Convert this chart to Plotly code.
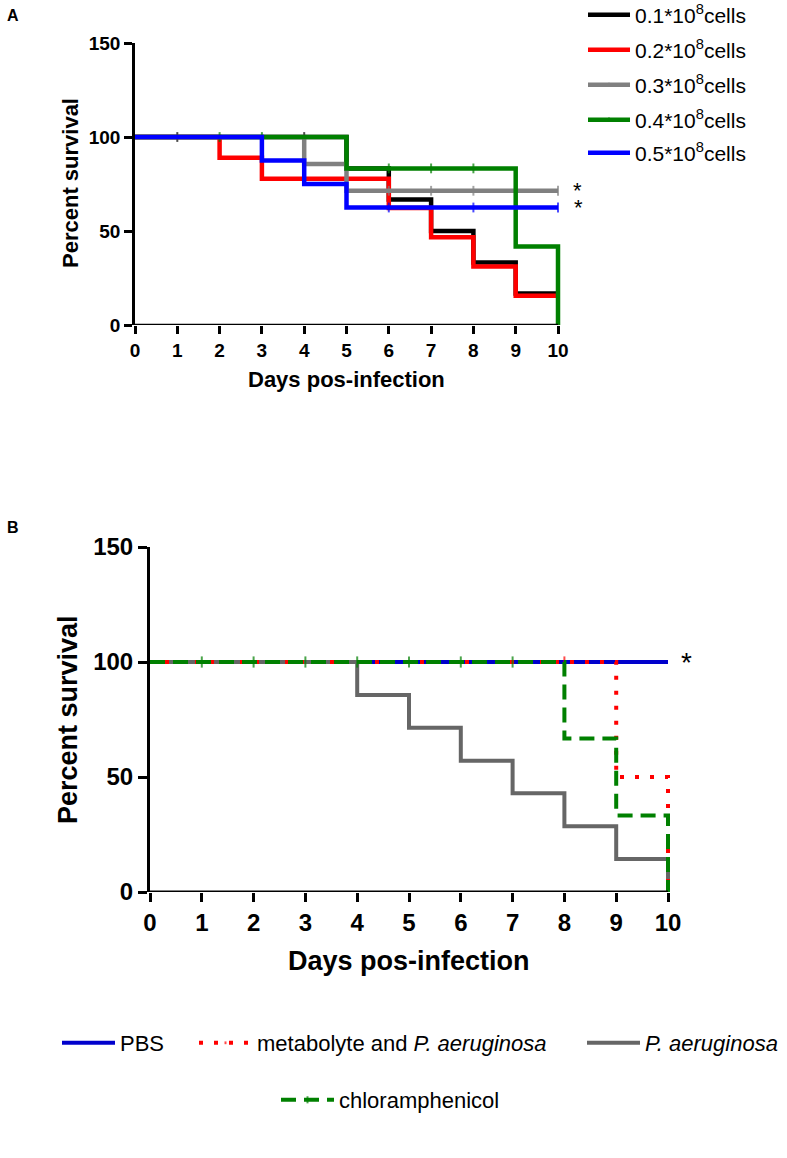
import plotly.graph_objects as go

W, H = 787, 1158
FONT = "Arial, Liberation Sans, sans-serif"

# ---------------- data ----------------
days = list(range(0, 11))
x_ticks = list(range(0, 11))
y_ticks = [0, 50, 100, 150]

# Panel A: percent survival per day (day 0..10)
a_names = ["0.1*10<sup>8</sup>cells", "0.2*10<sup>8</sup>cells", "0.3*10<sup>8</sup>cells",
           "0.4*10<sup>8</sup>cells", "0.5*10<sup>8</sup>cells"]
a_01 = [100, 100, 100, 100, 100, 83.3, 66.7, 50, 33.3, 16.7, 16.7]
a_02 = [100, 100, 88.9, 77.8, 77.8, 77.8, 62.2, 46.7, 31.1, 15.6, 15.6]
a_03 = [100, 100, 100, 100, 85.7, 71.4, 71.4, 71.4, 71.4, 71.4, 71.4]
a_04 = [100, 100, 100, 100, 100, 83.3, 83.3, 83.3, 83.3, 41.7, 0]
a_05 = [100, 100, 100, 87.5, 75, 62.5, 62.5, 62.5, 62.5, 62.5, 62.5]
# censored days (tick marks)
a_cens_01 = [1, 4]
a_cens_02 = [10]
a_cens_03 = [6, 7, 8, 10]
a_cens_04 = [2, 3, 6, 7, 8]
a_cens_05 = [6, 8, 10]
a_colors = ["#000000", "#ff0000", "#808080", "#008000", "#0000ff"]

# Panel B
b_names = ["PBS", "metabolyte and <i>P. aeruginosa</i>", "<i>P. aeruginosa</i>", "chloramphenicol"]
b_pbs = [100, 100, 100, 100, 100, 100, 100, 100, 100, 100, 100]
b_met = [100, 100, 100, 100, 100, 100, 100, 100, 100, 50, 0]
b_pae = [100, 100, 100, 100, 85.7, 71.4, 57.1, 42.9, 28.6, 14.3, 0]
b_chl = [100, 100, 100, 100, 100, 100, 100, 100, 66.7, 33.3, 0]
b_cens_pbs = []
b_cens_met = [8]
b_cens_pae = []
b_cens_chl = [1, 2, 3, 4, 5, 6, 7]
b_colors = ["#0000cc", "#ff0000", "#666666", "#008000"]

# significance marks
a_star_groups = [a_03, a_05]
b_star_groups = [b_pbs]


def px(x):
    return x / W


def py(y):
    return 1 - y / H


fig = go.Figure()


def add_curve(vals, cens, color, name, xa, ya, legend, width, dash="solid", tick=8):
    sizes = [tick if d in cens else 0 for d in days]
    fig.add_trace(go.Scatter(
        x=days, y=vals, name=name, mode="lines+markers" if cens else "lines",
        line=dict(color=color, width=width, shape="hv", dash=dash),
        marker=dict(symbol="line-ns", size=sizes, color=color,
                    line=dict(color=color, width=2)),
        xaxis=xa, yaxis=ya, legend=legend, showlegend=True, cliponaxis=False,
    ))


# Panel A draw order: black, red, gray, green, blue (blue on top)
a_vals = [a_01, a_02, a_03, a_04, a_05]
a_cens = [a_cens_01, a_cens_02, a_cens_03, a_cens_04, a_cens_05]
for i in range(5):
    add_curve(a_vals[i], a_cens[i], a_colors[i], a_names[i], "x", "y",
              "legend" if i == 0 else f"legend{i + 1}", 4.5, tick=7)

# Panel B draw order: PBS, P. aeruginosa, metabolyte, chloramphenicol
b_vals = [b_pbs, b_met, b_pae, b_chl]
b_cens = [b_cens_pbs, b_cens_met, b_cens_pae, b_cens_chl]
b_dash = ["solid", "4px,11px", "solid", "15px,8px"]
for i in [0, 2, 1, 3]:
    add_curve(b_vals[i], b_cens[i], b_colors[i], b_names[i], "x2", "y2",
              f"legend{6 + i}", 4, dash=b_dash[i], tick=8)

# ---------------- axes ----------------
a_x0, a_unit = 135, 42.3
b_x0, b_unit = 150, 51.8
xr = [0, 10.6]

tickA = dict(family=FONT, size=19, color="black", weight="bold")
tickB = dict(family=FONT, size=24, color="black", weight="bold")

fig.update_layout(
    xaxis=dict(domain=[px(a_x0), px(a_x0 + xr[1] * a_unit)], range=xr, tickvals=x_ticks,
               showline=False, ticks="outside", ticklen=8, tickwidth=2.5, tickcolor="black",
               showgrid=False, zeroline=False, tickfont=tickA, anchor="y", automargin=False),
    yaxis=dict(domain=[py(325), py(43)], range=[0, 150], tickvals=y_ticks,
               showline=True, linewidth=2.5, linecolor="black", ticks="outside", ticklen=8,
               tickwidth=2.5, tickcolor="black", showgrid=False, zeroline=False,
               tickfont=tickA, anchor="x", automargin=False),
    xaxis2=dict(domain=[px(b_x0), px(b_x0 + xr[1] * b_unit)], range=xr, tickvals=x_ticks,
                showline=False, ticks="outside", ticklen=9, tickwidth=3, tickcolor="black",
                showgrid=False, zeroline=False, tickfont=tickB, anchor="y2", automargin=False),
    yaxis2=dict(domain=[py(892), py(547)], range=[0, 150], tickvals=y_ticks,
                showline=True, linewidth=3, linecolor="black", ticks="outside", ticklen=9,
                tickwidth=3, tickcolor="black", showgrid=False, zeroline=False,
                tickfont=tickB, anchor="x2", automargin=False),
)

# x-axis lines from 0 to 10
fig.add_shape(type="line", xref="x", yref="y", x0=0, x1=10, y0=0, y1=0,
              line=dict(color="black", width=2.5), layer="above")
fig.add_shape(type="line", xref="x2", yref="y2", x0=0, x1=10, y0=0, y1=0,
              line=dict(color="black", width=3), layer="above")

# ---------------- legends ----------------
leg_common = dict(bgcolor="rgba(0,0,0,0)", borderwidth=0, xanchor="left", yanchor="middle",
                  orientation="v", xref="container", yref="container")
a_leg_rows = [15, 50, 85, 120, 153]
layout_legends = {}
for i, yy in enumerate(a_leg_rows):
    key = "legend" if i == 0 else f"legend{i + 1}"
    layout_legends[key] = dict(leg_common, x=px(583), y=py(yy), itemwidth=42,
                               font=dict(family=FONT, size=21, color="black"))
b_leg_pos = [(57, 1043), (194, 1043), (582, 1043), (276, 1100)]
for i, (xx, yy) in enumerate(b_leg_pos):
    layout_legends[f"legend{6 + i}"] = dict(leg_common, x=px(xx), y=py(yy), itemwidth=53,
                                            font=dict(family=FONT, size=22, color="black"))
fig.update_layout(**layout_legends)

# ---------------- annotations ----------------
def note(text, x, y, size, angle=0, xref="paper", yref="paper"):
    return dict(text=text, x=x, y=y, xref=xref, yref=yref, textangle=angle,
                xanchor="center", yanchor="middle", showarrow=False,
                font=dict(family=FONT, size=size, color="black"))


ann = [
    note("<b>A</b>", px(13), py(15), 16),
    note("<b>B</b>", px(13), py(527), 16),
    note("<b>Percent survival</b>", px(70), py(183), 22, angle=-90),
    note("<b>Days pos-infection</b>", px(346), py(379), 22),
    note("<b>Percent survival</b>", px(68), py(720), 27, angle=-90),
    note("<b>Days pos-infection</b>", px(409), py(961), 27),
]
for k, g in enumerate(a_star_groups):
    ann.append(note("*", 10.45 + 0.03 * k, g[-1], 22, xref="x", yref="y"))
for g in b_star_groups:
    ann.append(note("*", 10.35, g[-1], 28, xref="x2", yref="y2"))

fig.update_layout(
    annotations=ann,
    width=W, height=H, autosize=False,
    margin=dict(l=0, r=0, t=0, b=0, autoexpand=False),
    paper_bgcolor="white", plot_bgcolor="white",
    font=dict(family=FONT, color="black"),
)

fig.write_html("out.html", config={"displayModeBar": False},
               post_script="document.body.style.margin='0px';")
